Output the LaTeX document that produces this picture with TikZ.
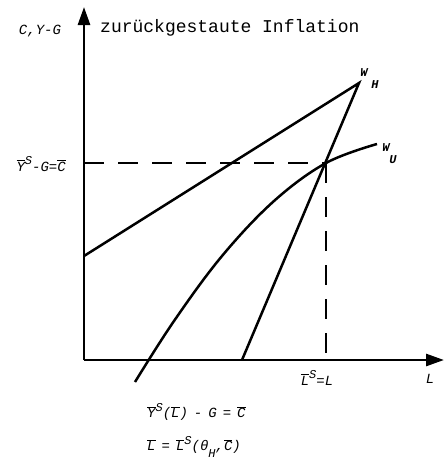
\documentclass[tikz,border=0pt]{standalone}
\usepackage{fontspec}
\setmainfont{Liberation Mono}
\usetikzlibrary{arrows.meta}
\newcommand\ob[1]{$\overline{\mbox{#1}}$}
\newcommand\myup[1]{\raisebox{0.45em}{\fontsize{12}{12}\selectfont #1}}
\newcommand\gp{\hspace{6pt}}
\tikzset{
  axis/.style={line width=2.7pt,-{Triangle[length=18pt,width=12pt]}},
  curve/.style={line width=2.5pt},
  guide/.style={line width=2.5pt,dash pattern=on 20pt off 14pt},
  lbl/.style={font=\fontsize{14}{16}\selectfont\itshape,inner sep=0pt},
  sm/.style={font=\fontsize{12}{13}\selectfont\itshape\bfseries,inner sep=0pt},
  ttl/.style={font=\fontsize{18}{20}\selectfont,inner sep=0pt}
}
\begin{document}
\begin{tikzpicture}[x=1pt,y=-1pt]
\useasboundingbox (0,0) rectangle (444,464);
% axes
\coordinate (O) at (84,360);
\coordinate (ytip) at (84,7);
\coordinate (xtip) at (444,360);
\draw[axis] (O) -- (ytip);
\draw[axis] (O) -- (xtip);
% key points
\coordinate (A) at (84,256);
\coordinate (WH) at (359,83);
\coordinate (B) at (242,360);
\coordinate (E) at (326,163);
\coordinate (Ey) at (84,163);
\coordinate (Ex) at (326,360);
\coordinate (u1) at (135,382);
\coordinate (u2) at (174,321);
\coordinate (u3) at (222,256);
\coordinate (u4) at (274,201);
\coordinate (u6) at (377,144);
% lines
\draw[curve] (A) -- (WH) -- (B);
\draw[curve] plot[smooth,tension=0.6] coordinates {(u1) (u2) (u3) (u4) (E) (u6)};
\draw[guide] (Ey) -- (E);
\draw[guide] (E) -- (Ex);
% labels
\node[lbl] (cyg) at (40,31) {C,Y-G};
\node[ttl,anchor=west] (title) at (100,28) {zurückgestaute Inflation};
\node[lbl,anchor=east] (ylab) at (66,164) {\ob{Y}\myup{S}-G=\ob{C}};
\node[sm] (wh) at (364,73) {W};
\node[sm] (whs) at (375,85) {H};
\node[sm] (wu) at (386,148) {W};
\node[sm] (wus) at (393,160) {U};
\node[lbl] (ls) at (317,378) {\ob{L}\myup{S}=L};
\node[lbl] (xl) at (430,379) {L};
\node[lbl,anchor=west] (eq1) at (147,412) {\ob{Y}\myup{S}(\ob{L})\gp-\gp G\gp=\gp\ob{C}};
\node[lbl,anchor=west] (eq2) at (147,447) {\ob{L}\gp=\gp\ob{L}\myup{S}(θ\raisebox{-0.5em}{\fontsize{12}{12}\selectfont H},\ob{C})};
\end{tikzpicture}
\end{document}
